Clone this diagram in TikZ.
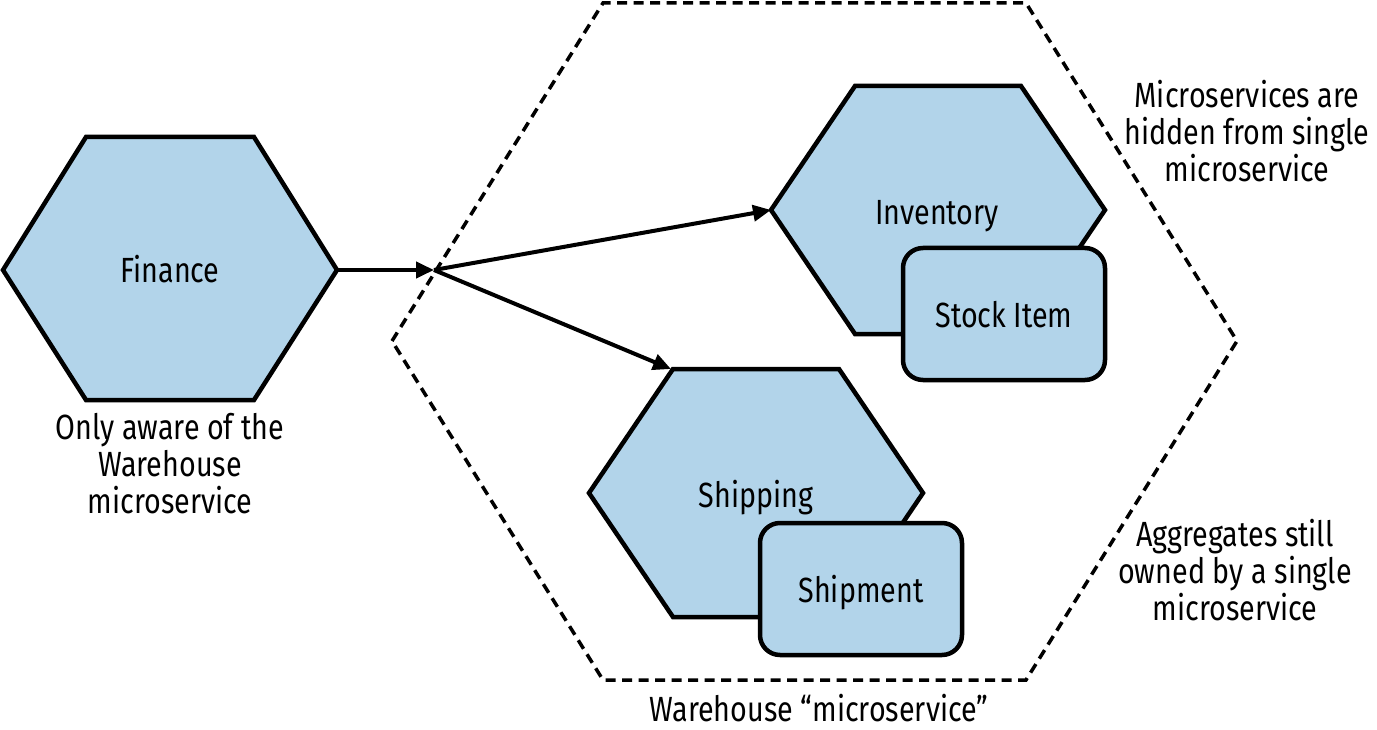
\documentclass[tikz,border=0pt]{standalone}
\usepackage{fontspec}
\setmainfont{Fira Sans}[FakeStretch=0.82]
\usetikzlibrary{arrows.meta}
\definecolor{hexfill}{RGB}{178,212,234}
\begin{document}
\begin{tikzpicture}[x=1pt,y=-1pt,
  every node/.style={font=\fontsize{35}{37}\selectfont, inner sep=0pt},
  hexa/.style={draw=black, fill=hexfill, line width=4.5pt, line join=miter},
  hexlabel/.style={anchor=base},
  itembox/.style={draw=black, fill=hexfill, line width=4.5pt, rounded corners=20pt,
     minimum width=202pt, minimum height=132pt, text depth=0pt},
  boundary/.style={draw=black, line width=3.5pt, dash pattern=on 10pt off 6.5pt},
  note/.style={align=center},
  flow/.style={draw=black, line width=4pt, -{Triangle[length=18pt,width=16pt]}}]
\useasboundingbox (0,0) rectangle (1377,730);

% Warehouse boundary
\draw[boundary] (392,341) -- (603,3) -- (1026,3) -- (1237,341) -- (1026,680) -- (603,680) -- cycle;

% Finance
\draw[hexa] (3,270) -- (86,137) -- (254,137) -- (337,270) -- (254,400) -- (86,400) -- cycle;
\coordinate (finR) at (337,270);
\node[hexlabel] (fin) at (170,283) {Finance};

% Inventory
\draw[hexa] (771,210) -- (855,86) -- (1021,86) -- (1105,210) -- (1021,334) -- (855,334) -- cycle;
\coordinate (invL) at (771,210);
\node[hexlabel] (inv) at (937,225) {Inventory};
\node[itembox] (stock) at (1004,314) {Stock Item};

% Shipping
\draw[hexa] (589,493) -- (673,369) -- (839,369) -- (923,493) -- (839,617) -- (673,617) -- cycle;
\coordinate (shpTL) at (671,369);
\node[hexlabel] (shp) at (756,507) {Shipping};
\node[itembox] (shipment) at (861,589) {Shipment};

% Arrows
\coordinate (junc) at (434,270);
\draw[flow] (finR) -- (junc);
\draw[flow] (junc) -- (invL);
\draw[flow] (junc) -- (shpTL);

% Notes
\node[note] (n1) at (170,464) {Only aware of the\\Warehouse\\microservice};
\node[note] (n2) at (1247,131) {Microservices are\\hidden from single\\microservice};
\node[note] (n3) at (1235,570) {Aggregates still\\owned by a single\\microservice};
\node (n4) at (819,708) {Warehouse “microservice”};
\end{tikzpicture}
\end{document}
